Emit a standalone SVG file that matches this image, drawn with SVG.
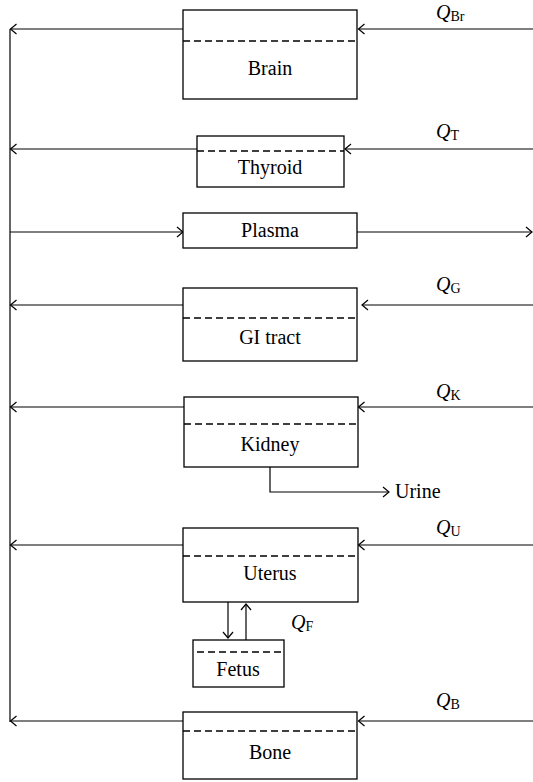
<svg xmlns="http://www.w3.org/2000/svg" width="533" height="782" viewBox="0 0 533 782" font-family="'Liberation Serif', 'Times New Roman', serif">
<defs>
<marker id="ah" viewBox="-8 -6 10 12" markerWidth="10" markerHeight="12" refX="0" refY="0" orient="auto" markerUnits="userSpaceOnUse">
<path d="M-6,-5 L0,0 L-6,5" fill="none" stroke="#000" stroke-width="1.2"/>
</marker>
<style>
.box{fill:#fff;stroke:#000;stroke-width:1.3}
.dash{stroke:#000;stroke-width:1.3;stroke-dasharray:7,4;fill:none}
.ln{stroke:#000;stroke-width:1.2;fill:none}
.arr{stroke:#000;stroke-width:1.2;fill:none;marker-end:url(#ah)}
text{fill:#000}
.lbl{font-size:20px;text-anchor:middle}
.q{font-size:20px;font-style:italic}
.sub{font-style:normal;font-size:14px}
</style>
</defs>
<g id="connectors">
<line class="ln" x1="10" y1="29" x2="10" y2="722"/>
<line class="arr" x1="183" y1="29" x2="10.5" y2="29"/>
<line class="arr" x1="533" y1="29" x2="358.5" y2="29"/>
<line class="arr" x1="197" y1="149" x2="10.5" y2="149"/>
<line class="arr" x1="533" y1="149" x2="345" y2="149"/>
<line class="arr" x1="10" y1="232" x2="183" y2="232"/>
<line class="arr" x1="357" y1="232" x2="532" y2="232"/>
<line class="arr" x1="183" y1="305" x2="10.5" y2="305"/>
<line class="arr" x1="533" y1="305" x2="362" y2="305"/>
<line class="arr" x1="184" y1="407" x2="10.5" y2="407"/>
<line class="arr" x1="533" y1="407" x2="358.5" y2="407"/>
<polyline class="arr" points="270,467 270,492 389,492"/>
<line class="arr" x1="183" y1="545" x2="10.5" y2="545"/>
<line class="arr" x1="533" y1="545" x2="358.5" y2="545"/>
<line class="arr" x1="228" y1="602" x2="228" y2="638"/>
<line class="arr" x1="246" y1="640" x2="246" y2="604"/>
<line class="arr" x1="183" y1="721" x2="10.5" y2="721"/>
<line class="arr" x1="533" y1="721" x2="358.5" y2="721"/>
</g>
<g id="brain">
<rect class="box" x="183" y="10" width="174" height="89"/>
<line class="dash" x1="183" y1="41" x2="357" y2="41"/>
<text class="lbl" x="270" y="75">Brain</text>
<text class="q" x="436" y="19">Q<tspan class="sub" dy="2">Br</tspan></text>
</g>
<g id="thyroid">
<rect class="box" x="197" y="136" width="147" height="51"/>
<line class="dash" x1="197" y1="151" x2="344" y2="151"/>
<text class="lbl" x="270" y="174">Thyroid</text>
<text class="q" x="436" y="138">Q<tspan class="sub" dy="2">T</tspan></text>
</g>
<g id="plasma">
<rect class="box" x="183" y="213" width="174" height="35"/>
<text class="lbl" x="270" y="237">Plasma</text>
</g>
<g id="gi">
<rect class="box" x="183" y="288" width="174" height="73"/>
<line class="dash" x1="183" y1="318" x2="357" y2="318"/>
<text class="lbl" x="270" y="344">GI tract</text>
<text class="q" x="436" y="291">Q<tspan class="sub" dy="2">G</tspan></text>
</g>
<g id="kidney">
<rect class="box" x="184" y="397" width="174" height="70"/>
<line class="dash" x1="184" y1="424" x2="358" y2="424"/>
<text class="lbl" x="270" y="451">Kidney</text>
<text class="q" x="436" y="398">Q<tspan class="sub" dy="2">K</tspan></text>
</g>
<g id="urine">
<text class="lbl" x="395" y="498" style="text-anchor:start">Urine</text>
</g>
<g id="uterus">
<rect class="box" x="183" y="528" width="175" height="74"/>
<line class="dash" x1="183" y1="556" x2="358" y2="556"/>
<text class="lbl" x="270" y="580">Uterus</text>
<text class="q" x="436" y="534">Q<tspan class="sub" dy="2">U</tspan></text>
</g>
<g id="qf">
<text class="q" x="291" y="629">Q<tspan class="sub" dy="2">F</tspan></text>
</g>
<g id="fetus">
<rect class="box" x="193" y="640" width="91" height="47"/>
<line class="dash" x1="197" y1="652" x2="284" y2="652"/>
<text class="lbl" x="238" y="676">Fetus</text>
</g>
<g id="bone">
<rect class="box" x="183" y="712" width="174" height="67"/>
<line class="dash" x1="183" y1="731" x2="357" y2="731"/>
<text class="lbl" x="270" y="759">Bone</text>
<text class="q" x="436" y="707">Q<tspan class="sub" dy="2">B</tspan></text>
</g>
</svg>
